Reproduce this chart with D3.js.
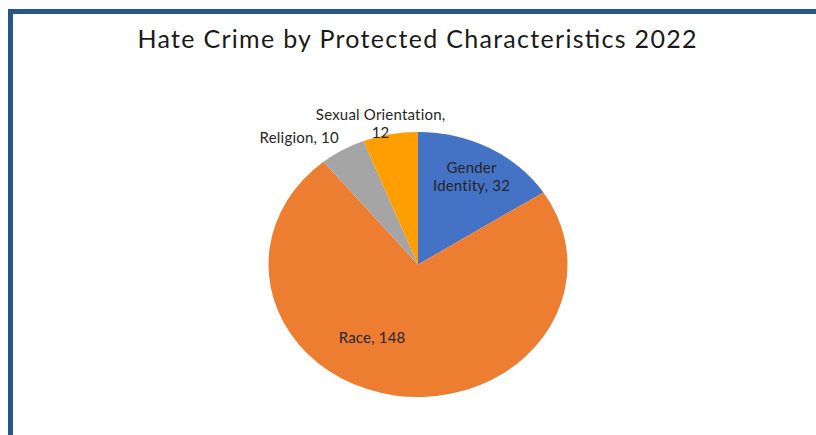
<!DOCTYPE html>
<html>
<head>
<meta charset="utf-8">
<script src="https://cdn.jsdelivr.net/npm/d3@7"></script>
<style>
  body { margin: 0; background: #fff; }
  svg { display: block; }
  text { font-family: Lato, "Open Sans", sans-serif; }
</style>
</head>
<body>
<script>
// chart data
var categories = ["Gender Identity", "Race", "Religion", "Sexual Orientation"]
var values = [32, 148, 10, 12]
var colors = ["#4472C4", "#ED7D31", "#A5A5A5", "#FF9E00"]
// label lines as they wrap in the picture
var labelLines = [["Gender", "Identity, 32"], ["Race, 148"], ["Religion, 10"], ["Sexual Orientation,", "12"]]
var title = "Hate Crime by Protected Characteristics 2022"

var width = 816, height = 435
var cx = 418, cy = 264.5, rx = 149.5, ry = 132.5

// where each label sits: fraction of radius along the slice mid-angle, then a nudge
var labelLayout = [
  {r: 0.75, dx: 0, dy: -1},
  {r: 0.6, dx: -32, dy: -5},
  {r: 1.15, dx: -32, dy: 5},
  {r: 1.06, dx: -8, dy: -2.5}
]

var svg = d3.select("body").append("svg")
    .attr("width", width)
    .attr("height", height)

// dark blue frame on the top and left
svg.append("rect").attr("x", 8).attr("y", 9).attr("width", width).attr("height", 5).attr("fill", "#2B5684")
svg.append("rect").attr("x", 8).attr("y", 9).attr("width", 5).attr("height", height).attr("fill", "#2B5684")

svg.append("text")
    .attr("x", 417)
    .attr("y", 48)
    .attr("text-anchor", "middle")
    .attr("textLength", 559)
    .attr("lengthAdjust", "spacing")
    .style("font-size", "25px")
    .style("fill", "#1a1a1a")
    .text(title)

var data = categories.map(function(c, i) { return {name: c, value: values[i], color: colors[i], lines: labelLines[i]} })

var pie = d3.pie().sort(null).value(function(d) { return d.value })
var arcs = pie(data)

var arc = d3.arc().innerRadius(0).outerRadius(ry)

// the pie is a little wider than tall
svg.append("g")
    .attr("transform", "translate(" + cx + "," + cy + ") scale(" + (rx / ry) + ",1)")
  .selectAll("path")
    .data(arcs)
    .enter()
    .append("path")
    .attr("d", arc)
    .attr("fill", function(d) { return d.data.color })

var lineH = 18, fs = 15
var labels = svg.selectAll(".lbl")
    .data(arcs)
    .enter()
    .append("text")
    .attr("class", "lbl")
    .attr("text-anchor", "middle")
    .style("font-size", fs + "px")
    .style("letter-spacing", "0.2px")
    .style("fill", "#262626")
    .each(function(d, i) {
      var mid = (d.startAngle + d.endAngle) / 2
      var L = labelLayout[i]
      var x = cx + rx * L.r * Math.sin(mid) + L.dx
      var y = cy - ry * L.r * Math.cos(mid) + L.dy
      var n = d.data.lines.length
      var t = d3.select(this)
      d.data.lines.forEach(function(line, j) {
        t.append("tspan")
          .attr("x", x)
          .attr("y", y - (n - 1) * lineH / 2 + j * lineH + fs * 0.36)
          .text(line)
      })
    })
</script>
</body>
</html>
